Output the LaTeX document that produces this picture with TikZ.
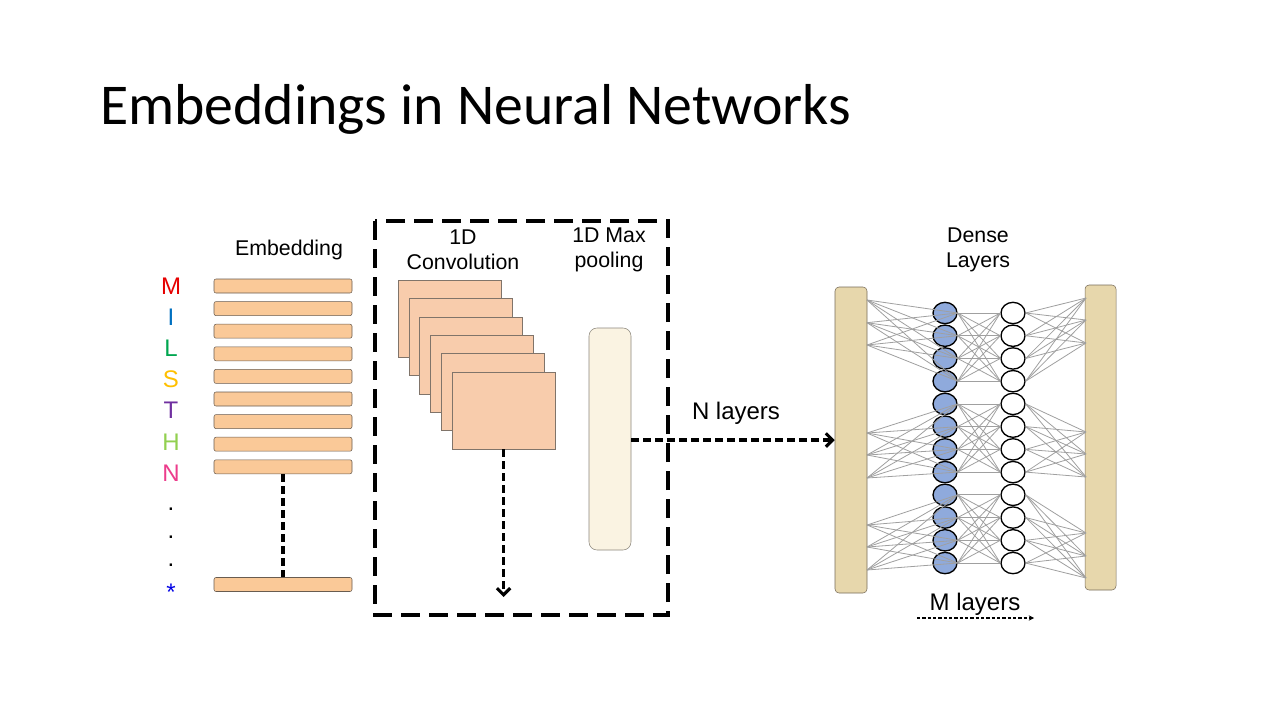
\documentclass[tikz,border=0pt]{standalone}
\usepackage{fontspec}
\setmainfont{Liberation Sans}
\newfontfamily\titlefont{Carlito}
\usetikzlibrary{arrows.meta,shapes.geometric,positioning}

\definecolor{embpeach}{RGB}{250,201,152}
\definecolor{convpeach}{RGB}{248,204,172}
\definecolor{peachedge}{RGB}{105,92,80}
\definecolor{poolcream}{RGB}{250,243,226}
\definecolor{pooledge}{RGB}{140,135,125}
\definecolor{sandbar}{RGB}{231,215,172}
\definecolor{sandedge}{RGB}{120,108,90}
\definecolor{neuronblue}{RGB}{143,170,220}
\definecolor{wiregray}{RGB}{160,160,160}
\definecolor{seqM}{RGB}{230,0,0}
\definecolor{seqI}{RGB}{0,112,192}
\definecolor{seqL}{RGB}{0,166,80}
\definecolor{seqS}{RGB}{255,192,0}
\definecolor{seqT}{RGB}{112,48,160}
\definecolor{seqH}{RGB}{146,208,80}
\definecolor{seqN}{RGB}{236,60,140}
\definecolor{seqstar}{RGB}{0,0,230}

\tikzset{
  embbar/.style={draw=peachedge, fill=embpeach, rounded corners=1.5pt, minimum width=103.5pt, minimum height=10.5pt, inner sep=0pt},
  convmap/.style={draw=peachedge!85, fill=convpeach, minimum width=77.25pt, minimum height=57.75pt, inner sep=0pt},
  sandcol/.style={draw=sandedge, fill=sandbar, rounded corners=3pt, inner sep=0pt},
  neuron/.style={ellipse, draw=black, line width=1pt, minimum width=18pt, minimum height=16pt, inner sep=0pt},
  wire/.style={draw=wiregray, line width=0.6pt},
  lbl/.style={font=\fontsize{16}{19}\selectfont, align=center, inner sep=0pt},
  seqchar/.style={font=\fontsize{18}{18}\selectfont, inner sep=0pt},
  thickdash/.style={line width=2.3pt, dash pattern=on 6pt off 3pt},
  dasharrow/.style={thickdash, -{Straight Barb[length=5pt,width=10pt,line width=2.3pt]}}
}

\begin{document}
\begin{tikzpicture}[x=0.75pt, y=-0.75pt]
% page
\fill[white] (0,0) rectangle (1280,720);

% title
\node[anchor=base west, inner sep=0pt, font=\titlefont\fontsize{43.3}{52}\selectfont] (title) at (100,125) {Embeddings in Neural Networks};

% sequence letters
\node[seqchar, text=seqM] (sM) at (171,286) {M};
\node[seqchar, text=seqI] (sI) at (171,317) {I};
\node[seqchar, text=seqL] (sL) at (171,348) {L};
\node[seqchar, text=seqS] (sS) at (171,379) {S};
\node[seqchar, text=seqT] (sT) at (171,410) {T};
\node[seqchar, text=seqH] (sH) at (171,442) {H};
\node[seqchar, text=seqN] (sN) at (171,473) {N};
\node[seqchar] (dot1) at (171,509) {.};
\node[seqchar] (dot2) at (171,537) {.};
\node[seqchar] (dot3) at (171,565) {.};
\node[seqchar, text=seqstar] (sStar) at (171,592) {*};

% embedding
\node[lbl] (embtitle) at (289,250) {Embedding};
\foreach \i in {1,...,9}
  \node[embbar] (emb\i) at (283,{286+22.6*(\i-1)}) {};
\node[embbar] (emblast) at (283,584.5) {};
\draw[thickdash] (emb9.south) -- (emblast.north);

% convolution block
\draw[line width=2.3pt, dash pattern=on 14pt off 7pt] (375,221) rectangle (668,615);
\node[lbl] (convtitle) at (463,250) {1D\\Convolution};
\node[lbl] (pooltitle) at (609,250) {1D Max\\pooling};
\foreach \i in {1,...,6}
  \node[convmap] (conv\i) at ({449.5+10.8*(\i-1)},{318.5+18.4*(\i-1)}) {};
\coordinate (convend) at (503.5,597);
\draw[dasharrow] (conv6.south) -- (convend);
\node[draw=pooledge, fill=poolcream, rounded corners=6pt, minimum width=31.5pt, minimum height=166.5pt, inner sep=0pt] (pool) at (610,439) {};

% dense layers
\node[lbl] (densetitle) at (978,250) {Dense\\Layers};
\node[sandcol, minimum width=24pt, minimum height=229.5pt] (lbar) at (851,440) {};
\node[sandcol, minimum width=23.25pt, minimum height=228.75pt] (rbar) at (1100.5,437.5) {};
\draw[dasharrow] (pool.east |- 0,440) -- (lbar.west |- 0,440);
\node[font=\fontsize{18}{18}\selectfont, inner sep=0pt] (nlayers) at (736,413) {N layers};

% wire end points on the bars
\foreach \y [count=\k] in {300,322.7,345,433,455,478,525,547,570}
  \coordinate (lp\k) at (867,\y);
\foreach \y [count=\k] in {298,320,343,432,454,477,533,556,578}
  \coordinate (rp\k) at (1086,\y);

% neurons
\foreach \i in {1,...,12}{
  \node[neuron, fill=neuronblue] (bn\i) at (945,{313+22.73*(\i-1)}) {};
  \node[neuron, fill=white] (wn\i) at (1013,{313+22.73*(\i-1)}) {};
}
\foreach \g in {0,1,2}
  \foreach \a in {1,2,3}
    \foreach \b in {1,2,3,4}{
      \pgfmathtruncatemacro\i{3*\g+\a}
      \pgfmathtruncatemacro\j{4*\g+\b}
      \draw[wire] (lp\i) -- (bn\j.east);
      \draw[wire] (rp\i) -- (wn\j.east);
    }
\foreach \g in {0,1,2}
  \foreach \a in {1,2,3,4}
    \foreach \b in {1,2,3,4}{
      \pgfmathtruncatemacro\i{4*\g+\a}
      \pgfmathtruncatemacro\j{4*\g+\b}
      \draw[wire] (bn\i.east) -- (wn\j.west);
    }

% M layers
\node[anchor=base, font=\fontsize{18}{18}\selectfont, inner sep=0pt] (mlayers) at (975,610) {M layers};
\coordinate (mstart) at (917,618);
\coordinate (mend) at (1034,618);
\draw[line width=0.8pt, dash pattern=on 2.5pt off 1.5pt, -{Stealth[length=4pt,width=4pt]}] (mstart) -- (mend);
\end{tikzpicture}
\end{document}
